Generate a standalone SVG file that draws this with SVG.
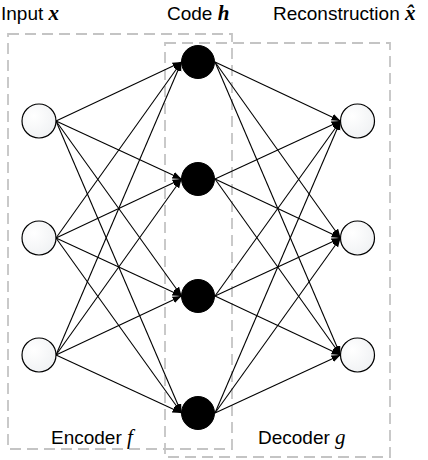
<svg xmlns="http://www.w3.org/2000/svg" width="428" height="460" viewBox="0 0 428 460">
<style>
.box{fill:none;stroke:#c4c4c4;stroke-width:1.8;stroke-dasharray:11 6}
.lbl{font-family:"Liberation Sans",Arial,sans-serif;font-size:19px;fill:#000}
.var{font-family:"Liberation Serif","Times New Roman",serif;font-style:italic;font-size:21px}
.b{font-weight:bold}
.in{fill:url(#g);stroke:#000;stroke-width:1.2}
.code{fill:#000;stroke:#000}
.e{stroke:#000;stroke-width:1.1;fill:none;marker-end:url(#ah)}
</style>
<defs>
<radialGradient id="g" cx="0.35" cy="0.35" r="0.8">
<stop offset="0" stop-color="#ffffff"/>
<stop offset="1" stop-color="#eef0f2"/>
</radialGradient>
<marker id="ah" markerUnits="userSpaceOnUse" markerWidth="10" markerHeight="8" refX="9" refY="3.5" orient="auto">
<path d="M0,0 L9,3.5 L0,7 z" fill="#000"/>
</marker>
</defs>
<g id="encoder-box"><rect class="box" x="8" y="34" width="224" height="415"/></g>
<g id="decoder-box"><rect class="box" x="165" y="43" width="225" height="414"/></g>
<g id="connectors">
<line class="e" x1="56" y1="121" x2="181.5" y2="62"/>
<line class="e" x1="56" y1="121" x2="181.5" y2="179"/>
<line class="e" x1="56" y1="121" x2="181.5" y2="296"/>
<line class="e" x1="56" y1="121" x2="181.5" y2="413"/>
<line class="e" x1="56" y1="238" x2="181.5" y2="62"/>
<line class="e" x1="56" y1="238" x2="181.5" y2="179"/>
<line class="e" x1="56" y1="238" x2="181.5" y2="296"/>
<line class="e" x1="56" y1="238" x2="181.5" y2="413"/>
<line class="e" x1="56" y1="355" x2="181.5" y2="62"/>
<line class="e" x1="56" y1="355" x2="181.5" y2="179"/>
<line class="e" x1="56" y1="355" x2="181.5" y2="296"/>
<line class="e" x1="56" y1="355" x2="181.5" y2="413"/>
<line class="e" x1="215" y1="62" x2="340.5" y2="121"/>
<line class="e" x1="215" y1="62" x2="340.5" y2="238"/>
<line class="e" x1="215" y1="62" x2="340.5" y2="355"/>
<line class="e" x1="215" y1="179" x2="340.5" y2="121"/>
<line class="e" x1="215" y1="179" x2="340.5" y2="238"/>
<line class="e" x1="215" y1="179" x2="340.5" y2="355"/>
<line class="e" x1="215" y1="296" x2="340.5" y2="121"/>
<line class="e" x1="215" y1="296" x2="340.5" y2="238"/>
<line class="e" x1="215" y1="296" x2="340.5" y2="355"/>
<line class="e" x1="215" y1="413" x2="340.5" y2="121"/>
<line class="e" x1="215" y1="413" x2="340.5" y2="238"/>
<line class="e" x1="215" y1="413" x2="340.5" y2="355"/>
</g>
<g id="input1"><circle class="in" cx="39" cy="121" r="17"/></g>
<g id="input2"><circle class="in" cx="39" cy="238" r="17"/></g>
<g id="input3"><circle class="in" cx="39" cy="355" r="17"/></g>
<g id="code1"><circle class="code" cx="198" cy="62" r="16.5"/></g>
<g id="code2"><circle class="code" cx="198" cy="179" r="16.5"/></g>
<g id="code3"><circle class="code" cx="198" cy="296" r="16.5"/></g>
<g id="code4"><circle class="code" cx="198" cy="413" r="16.5"/></g>
<g id="output1"><circle class="in" cx="357.5" cy="121" r="17"/></g>
<g id="output2"><circle class="in" cx="357.5" cy="238" r="17"/></g>
<g id="output3"><circle class="in" cx="357.5" cy="355" r="17"/></g>
<g id="labels">
<text class="lbl" x="1" y="19.5">Input <tspan class="var b">x</tspan></text>
<text class="lbl" x="167" y="19.5">Code <tspan class="var b">h</tspan></text>
<text class="lbl" x="273" y="19.5">Reconstruction <tspan class="var b">x̂</tspan></text>
<text class="lbl" x="51" y="444">Encoder <tspan class="var">f</tspan></text>
<text class="lbl" x="258" y="444">Decoder <tspan class="var">g</tspan></text>
</g>
</svg>
